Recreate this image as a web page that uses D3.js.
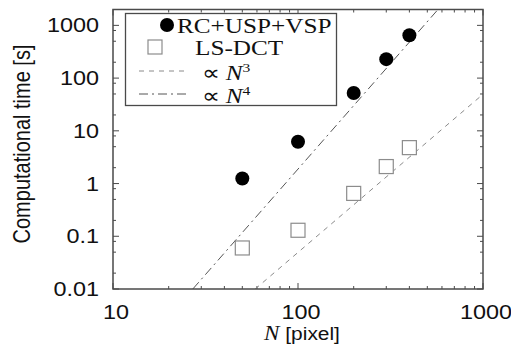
<!DOCTYPE html>
<html>
<head>
<meta charset="utf-8">
<script src="https://cdn.jsdelivr.net/npm/d3@7"></script>
<style>
  body { margin: 0; background: #fff; }
  svg { display: block; }
</style>
</head>
<body>
<div id="chart"></div>
<script>
// data
const sizes = [50, 100, 200, 300, 400];
const rcTimes = [1.25, 6.2, 52, 229, 650];
const lsTimes = [0.06, 0.13, 0.65, 2.1, 4.8];
// reference lines (end points of the straight lines in log-log)
const fitN3 = [[58.7, 0.01], [1000, 49.4]];
const fitN4 = [[27, 0.01], [571, 2000]];
const xTicks = [10, 100, 1000];
const yTicks = [0.01, 0.1, 1, 10, 100, 1000];
const legendLabels = ['RC+USP+VSP', 'LS-DCT', '\u221D N', '\u221D N'];

const W = 511, H = 345;
const margin = { top: 9.5, right: 28, bottom: 56, left: 113 };
const width = W - margin.left - margin.right;
const height = H - margin.top - margin.bottom;
const axisColor = '#4a4a4a';
const sx = 1.2; // text in the picture is a bit wider than tall

const svg = d3.select('#chart').append('svg')
  .attr('width', W)
  .attr('height', H);

const g = svg.append('g')
  .attr('transform', `translate(${margin.left},${margin.top})`);

const x = d3.scaleLog().domain([10, 1000]).range([0, width]);
const y = d3.scaleLog().domain([0.01, 2000]).range([height, 0]);

// minor ticks: 2..9 per decade on x, 2,5,8 on y (as visible)
const xMinor = [];
[10, 100].forEach(d => { for (let k = 2; k <= 9; k++) xMinor.push(d * k); });
const yMinor = [];
[0.01, 0.1, 1, 10, 100, 1000].forEach(d => [2, 5, 8].forEach(k => { if (d * k < 2000) yMinor.push(d * k); }));

const ticks = g.append('g').attr('stroke', axisColor).attr('stroke-width', 1);
function tickLines(vals, len, axis) {
  vals.forEach(v => {
    if (axis === 'x') {
      ticks.append('line').attr('x1', x(v)).attr('x2', x(v)).attr('y1', height).attr('y2', height - len);
      ticks.append('line').attr('x1', x(v)).attr('x2', x(v)).attr('y1', 0).attr('y2', len);
    } else {
      ticks.append('line').attr('y1', y(v)).attr('y2', y(v)).attr('x1', 0).attr('x2', len);
      ticks.append('line').attr('y1', y(v)).attr('y2', y(v)).attr('x1', width).attr('x2', width - len);
    }
  });
}
tickLines(xMinor, 3, 'x');
tickLines(xTicks, 6, 'x');
tickLines(yMinor, 3, 'y');
tickLines(yTicks, 6, 'y');

// clip for the fit lines
svg.append('clipPath').attr('id', 'plotclip')
  .append('rect').attr('width', width).attr('height', height);

const line = d3.line().x(d => x(d[0])).y(d => y(d[1]));
const fits = g.append('g').attr('clip-path', 'url(#plotclip)').attr('fill', 'none');
fits.append('path').datum(fitN3).attr('d', line)
  .attr('stroke', '#8a8a8a').attr('stroke-width', 1).attr('stroke-dasharray', '5,5');
fits.append('path').datum(fitN4).attr('d', line)
  .attr('stroke', '#555').attr('stroke-width', 1).attr('stroke-dasharray', '9,4,2,4');

// frame
g.append('rect').attr('width', width).attr('height', height)
  .attr('fill', 'none').attr('stroke', axisColor).attr('stroke-width', 1.5);

// tick labels
function stretchedText(parent, tx, ty, txt, anchor, size, family) {
  return parent.append('text')
    .attr('transform', `translate(${tx},${ty}) scale(${sx},1)`)
    .attr('text-anchor', anchor)
    .attr('font-family', family)
    .attr('font-size', size)
    .attr('fill', '#111')
    .text(txt);
}
const sans = 'Liberation Sans, Arial, sans-serif';
const fmt = d => d >= 1 ? d3.format('d')(d) : String(d);
yTicks.forEach(v => stretchedText(g, -14, y(v) + 7, fmt(v), 'end', 19.5, sans));
xTicks.forEach(v => stretchedText(g, x(v) + 3, height + 30, fmt(v), 'middle', 19.5, sans));

// axis titles
svg.append('text')
  .attr('transform', `translate(30,${144}) rotate(-90) scale(1,${sx})`)
  .attr('text-anchor', 'middle')
  .attr('font-family', sans)
  .attr('font-size', 20)
  .attr('fill', '#111')
  .text('Computational time [s]');

const xt = svg.append('text')
  .attr('transform', `translate(302,340) scale(1.1,1)`)
  .attr('text-anchor', 'middle')
  .attr('font-size', 19)
  .attr('fill', '#111');
xt.append('tspan').attr('font-family', 'Liberation Serif, serif').attr('font-style', 'italic').attr('font-size', 21).text('N');
xt.append('tspan').attr('font-family', sans).text(' [pixel]');

// data points
g.append('g').selectAll('circle')
  .data(sizes.map((n, i) => [n, rcTimes[i]]))
  .join('circle')
  .attr('cx', d => x(d[0])).attr('cy', d => y(d[1]))
  .attr('r', 7).attr('fill', '#000');

const sq = 14;
g.append('g').selectAll('rect')
  .data(sizes.map((n, i) => [n, lsTimes[i]]))
  .join('rect')
  .attr('x', d => x(d[0]) - sq / 2).attr('y', d => y(d[1]) - sq / 2)
  .attr('width', sq).attr('height', sq)
  .attr('fill', '#fff').attr('stroke', '#8c8c8c').attr('stroke-width', 1.2);

// legend
const lg = svg.append('g');
lg.append('rect').attr('x', 125.5).attr('y', 13.5).attr('width', 211).attr('height', 92)
  .attr('fill', '#fff').attr('stroke', axisColor).attr('stroke-width', 1.3);
lg.append('circle').attr('cx', 167).attr('cy', 25).attr('r', 7).attr('fill', '#000');
lg.append('rect').attr('x', 148).attr('y', 40).attr('width', 14).attr('height', 14)
  .attr('fill', '#fff').attr('stroke', '#8c8c8c').attr('stroke-width', 1.2);
lg.append('line').attr('x1', 139).attr('x2', 188).attr('y1', 71).attr('y2', 71)
  .attr('stroke', '#8a8a8a').attr('stroke-dasharray', '5,5');
lg.append('line').attr('x1', 139).attr('x2', 188).attr('y1', 94).attr('y2', 94)
  .attr('stroke', '#555').attr('stroke-dasharray', '9,4,2,4');

const serif = 'Liberation Serif, Times New Roman, serif';
stretchedText(lg, 177, 33, legendLabels[0], 'start', 21, serif);
stretchedText(lg, 195, 55, legendLabels[1], 'start', 21, serif);
[3, 4].forEach((p, i) => {
  const t = lg.append('text')
    .attr('transform', `translate(202,${80 + i * 23}) scale(${sx},1)`)
    .attr('font-family', serif).attr('font-size', 21).attr('fill', '#111');
  t.append('tspan').text('\u221D ');
  t.append('tspan').attr('font-style', 'italic').text('N');
  t.append('tspan').attr('font-size', 13).attr('dy', -8).text(p);
});
</script>
</body>
</html>
